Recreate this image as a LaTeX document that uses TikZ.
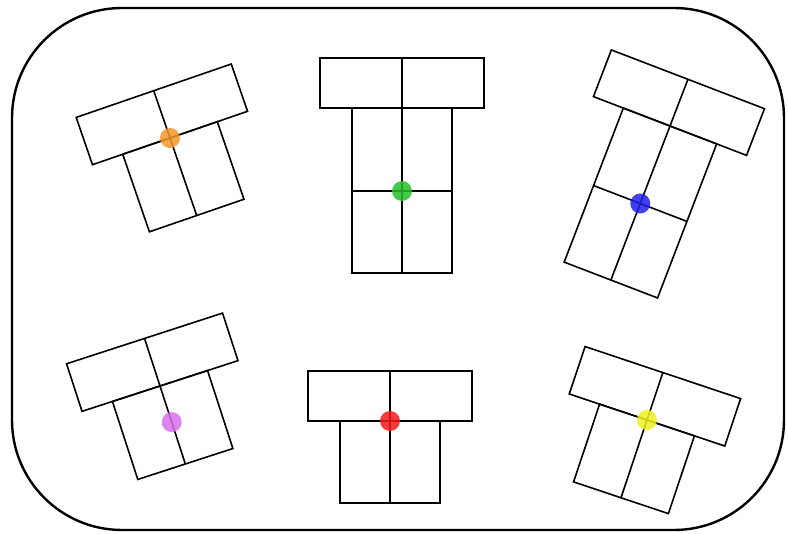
\documentclass[tikz,border=0pt]{standalone}
\usepackage{xcolor}
\usepackage{tikz}
\usetikzlibrary{calc}

\definecolor{dotorange}{RGB}{245,150,40}
\definecolor{dotgreen}{RGB}{40,190,40}
\definecolor{dotblue}{RGB}{30,30,235}
\definecolor{dotviolet}{RGB}{215,110,235}
\definecolor{dotred}{RGB}{245,25,25}
\definecolor{dotyellow}{RGB}{240,240,30}

\begin{document}
\begin{tikzpicture}[x=1pt, y=1pt, piece/.style={line width=1.6pt}, dot/.style={fill opacity=0.85}]
        \useasboundingbox (0,0) rectangle (788,-534);

        % Outer frame
        \draw[line width=2.4pt, rounded corners=110pt] (12,-8) rectangle (784,-530);

        % Orange piece (short stem)
        \begin{scope}[shift={(170,-138)}, rotate=19]
            \draw[piece] (-82,0) rectangle (82,50) (0,0) -- (0,50);
            \draw[piece] (-50,0) rectangle (50,-82) (0,0) -- (0,-82);
            \fill[dotorange, dot] (0,0) circle (10);
        \end{scope}

        % Green piece (long stem)
        \begin{scope}[shift={(402,-108)}]
            \draw[piece] (-82,0) rectangle (82,50) (0,0) -- (0,50);
            \draw[piece] (-50,0) rectangle (50,-165) (0,0) -- (0,-165);
            \draw[piece] (-50,-83) -- (50,-83);
            \fill[dotgreen, dot] (0,-83) circle (10);
        \end{scope}

        % Blue piece (long stem)
        \begin{scope}[shift={(670,-126)}, rotate=-21]
            \draw[piece] (-82,0) rectangle (82,50) (0,0) -- (0,50);
            \draw[piece] (-50,0) rectangle (50,-165) (0,0) -- (0,-165);
            \draw[piece] (-50,-83) -- (50,-83);
            \fill[dotblue, dot] (0,-83) circle (10);
        \end{scope}

        % Violet piece (short stem)
        \begin{scope}[shift={(160,-386)}, rotate=18]
            \draw[piece] (-82,0) rectangle (82,50) (0,0) -- (0,50);
            \draw[piece] (-50,0) rectangle (50,-82) (0,0) -- (0,-82);
            \fill[dotviolet, dot] (0,-38) circle (10);
        \end{scope}

        % Red piece (short stem)
        \begin{scope}[shift={(390,-421)}]
            \draw[piece] (-82,0) rectangle (82,50) (0,0) -- (0,50);
            \draw[piece] (-50,0) rectangle (50,-82) (0,0) -- (0,-82);
            \fill[dotred, dot] (0,0) circle (10);
        \end{scope}

        % Yellow piece (short stem)
        \begin{scope}[shift={(647,-420)}, rotate=-18.5]
            \draw[piece] (-82,0) rectangle (82,50) (0,0) -- (0,50);
            \draw[piece] (-50,0) rectangle (50,-82) (0,0) -- (0,-82);
            \fill[dotyellow, dot] (0,0) circle (10);
        \end{scope}
    \end{tikzpicture}
\end{document}
